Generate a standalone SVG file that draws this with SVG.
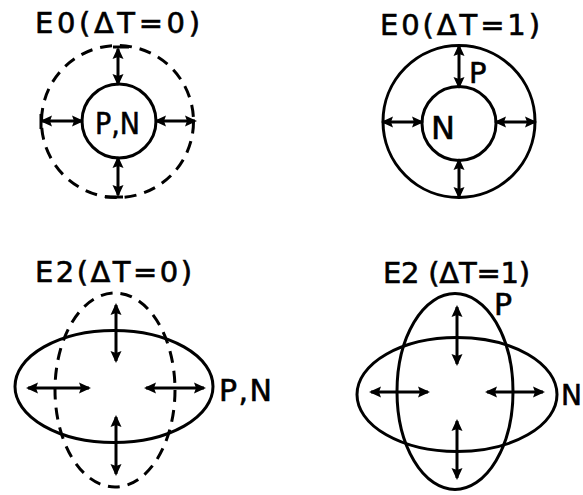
<svg xmlns="http://www.w3.org/2000/svg" width="583" height="495" viewBox="0 0 583 495">
<style>
.ln{fill:none;stroke:#000;stroke-width:3}
.dash{fill:none;stroke:#000;stroke-width:3;stroke-dasharray:12 8}
.ar{fill:none;stroke:#000;stroke-width:3}
.t{font-family:"DejaVu Sans","Liberation Sans",Arial,sans-serif;fill:#000;stroke:#000;stroke-width:0.6}
</style>
<defs>
<marker id="ah" markerUnits="userSpaceOnUse" markerWidth="14" markerHeight="12" refX="10" refY="6" orient="auto-start-reverse">
<path d="M0,0.5 L12,6 L0,11.5 L2,6 z" fill="#000"/>
</marker>
</defs>
<rect width="583" height="495" fill="#fff"/>

<g id="title-e0-0"><text class="t" x="35" y="33" font-size="29" textLength="165" lengthAdjust="spacing">E0(ΔT=0)</text></g>
<g id="title-e0-1"><text class="t" x="380" y="35" font-size="29" textLength="160" lengthAdjust="spacing">E0(ΔT=1)</text></g>
<g id="title-e2-0"><text class="t" x="35" y="282" font-size="29" textLength="157" lengthAdjust="spacing">E2(ΔT=0)</text></g>
<g id="title-e2-1"><text class="t" x="383" y="283" font-size="29" textLength="147" lengthAdjust="spacing">E2 (ΔT=1)</text></g>

<g id="e0-0">
<circle class="dash" cx="117.5" cy="121.5" r="76"/>
<circle class="ln" cx="119" cy="121" r="37"/>
<text class="t" x="95" y="134" font-size="30" textLength="45" lengthAdjust="spacingAndGlyphs">P,N</text>
</g>
<g id="e0-1">
<circle class="ln" cx="459" cy="121.5" r="76"/>
<circle class="ln" cx="459" cy="123.5" r="37"/>
<text class="t" x="469" y="83" font-size="29">P</text>
<text class="t" x="431" y="139" font-size="32">N</text>
</g>
<g id="e2-0">
<ellipse class="ln" cx="114" cy="386.5" rx="99" ry="56"/>
<ellipse class="dash" cx="115" cy="390" rx="60" ry="97"/>
<text class="t" x="219" y="401" font-size="30" textLength="53" lengthAdjust="spacing">P,N</text>
</g>
<g id="e2-1">
<ellipse class="ln" cx="457" cy="394.5" rx="100" ry="57"/>
<ellipse class="ln" cx="455" cy="391.5" rx="58" ry="98"/>
<text class="t" x="494" y="315" font-size="30">P</text>
<text class="t" x="561" y="405" font-size="28">N</text>
</g>

<g id="connectors">
<!-- E0 dT=0 -->
<line class="ar" x1="118" y1="49" x2="118" y2="84" marker-start="url(#ah)" marker-end="url(#ah)"/>
<line class="ln" x1="113" y1="47" x2="129" y2="47"/>
<line class="ar" x1="42" y1="121" x2="82" y2="121" marker-start="url(#ah)" marker-end="url(#ah)"/>
<line class="ln" x1="41" y1="114" x2="41" y2="129"/>
<line class="ar" x1="156" y1="121" x2="195" y2="121" marker-start="url(#ah)" marker-end="url(#ah)"/>
<line class="ar" x1="118" y1="158" x2="118" y2="195" marker-start="url(#ah)" marker-end="url(#ah)"/>
<line class="ln" x1="105" y1="197" x2="123" y2="197"/>
<!-- E0 dT=1 -->
<line class="ar" x1="459" y1="46" x2="459" y2="87" marker-start="url(#ah)" marker-end="url(#ah)"/>
<line class="ar" x1="383" y1="122" x2="422" y2="122" marker-start="url(#ah)" marker-end="url(#ah)"/>
<line class="ar" x1="496" y1="122" x2="535" y2="122" marker-start="url(#ah)" marker-end="url(#ah)"/>
<line class="ar" x1="459" y1="160" x2="459" y2="197" marker-start="url(#ah)" marker-end="url(#ah)"/>
<!-- E2 dT=0 -->
<line class="ar" x1="116" y1="305" x2="116" y2="361" marker-start="url(#ah)" marker-end="url(#ah)"/>
<line class="ar" x1="116" y1="417" x2="116" y2="474" marker-start="url(#ah)" marker-end="url(#ah)"/>
<line class="ar" x1="28" y1="388" x2="89" y2="388" marker-start="url(#ah)" marker-end="url(#ah)"/>
<line class="ar" x1="146" y1="388" x2="204" y2="388" marker-start="url(#ah)" marker-end="url(#ah)"/>
<!-- E2 dT=1 -->
<line class="ar" x1="457" y1="307" x2="457" y2="364" marker-start="url(#ah)" marker-end="url(#ah)"/>
<line class="ar" x1="457" y1="421" x2="457" y2="478" marker-start="url(#ah)" marker-end="url(#ah)"/>
<line class="ar" x1="371" y1="392" x2="428" y2="392" marker-start="url(#ah)" marker-end="url(#ah)"/>
<line class="ar" x1="487" y1="392" x2="543" y2="392" marker-start="url(#ah)" marker-end="url(#ah)"/>
</g>
</svg>
